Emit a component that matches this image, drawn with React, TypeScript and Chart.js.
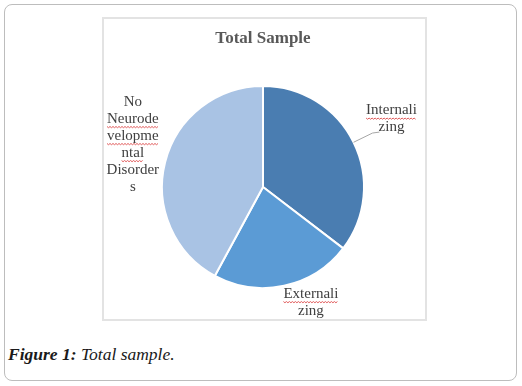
import React, { useEffect, useRef } from "react";
import { Chart, registerables } from "chart.js";

Chart.register(...registerables);

// ---- data ----
const categories = ["Internalizing", "Externalizing", "No Neurodevelopmental Disorders"];
const values = [35.4, 22.5, 42.1];
const sliceColors = ["#4A7DB1", "#5B9BD5", "#A9C3E4"];
const labelLines = [
  ["Internali", "zing"],
  ["Externali", "zing"],
  ["No", "Neurode", "velopme", "ntal", "Disorder", "s"],
];
const flaggedWords = ["Internali", "Externali", "Neurode", "velopme", "ntal"];
const chartTitle = "Total Sample";
const captionBold = "Figure 1:";
const captionText = " Total sample.";

// label placement (style)
const labelDist = [1.43, 1.18, 1.35];
const labelShift = [
  [-1, -4],
  [23, -1],
  [2, -9],
];
const leader = [true, false, false];

export default function App() {
  const ref = useRef<HTMLCanvasElement>(null);

  useEffect(() => {
    if (!ref.current) return;
    const labelPlugin = {
      id: "sliceLabels",
      afterDatasetsDraw(chart: any) {
        const ctx = chart.ctx as CanvasRenderingContext2D;
        const meta = chart.getDatasetMeta(0);
        ctx.save();
        ctx.font = "15px 'Liberation Serif'";
        ctx.textAlign = "center";
        ctx.textBaseline = "middle";
        const lh = 17;
        meta.data.forEach((arc: any, i: number) => {
          const { x, y, startAngle, endAngle, outerRadius } = arc.getProps(
            ["x", "y", "startAngle", "endAngle", "outerRadius"],
            true
          );
          const mid = (startAngle + endAngle) / 2;
          const c = Math.cos(mid);
          const s = Math.sin(mid);
          const ax = x + c * outerRadius * labelDist[i] + labelShift[i][0];
          const ay = y + s * outerRadius * labelDist[i] + labelShift[i][1];
          const lines = labelLines[i];
          const top = ay - ((lines.length - 1) * lh) / 2;
          if (leader[i]) {
            ctx.strokeStyle = "#a6a6a6";
            ctx.lineWidth = 1;
            ctx.beginPath();
            ctx.moveTo(x + c * outerRadius, y + s * outerRadius);
            ctx.lineTo(ax - 19, ay + 14);
            ctx.lineTo(ax - 12, ay + 13);
            ctx.stroke();
          }
          lines.forEach((ln, j) => {
            const ly = top + j * lh;
            ctx.fillStyle = "#404040";
            ctx.fillText(ln, ax, ly);
            if (flaggedWords.includes(ln)) {
              const w = ctx.measureText(ln).width;
              const x0 = ax - w / 2;
              const uy = ly + 7.5;
              ctx.strokeStyle = "#e05a5a";
              ctx.lineWidth = 1;
              ctx.beginPath();
              for (let k = 0; k <= w; k += 1.5) {
                const yy = uy + (Math.round(k / 1.5) % 2 === 0 ? 0 : 1.2);
                if (k === 0) ctx.moveTo(x0 + k, yy);
                else ctx.lineTo(x0 + k, yy);
              }
              ctx.stroke();
            }
          });
        });
        ctx.restore();
      },
    };

    const chart = new Chart(ref.current, {
      type: "pie",
      data: {
        labels: categories,
        datasets: [
          {
            data: values,
            backgroundColor: sliceColors,
            borderColor: "#ffffff",
            borderWidth: 2,
            hoverOffset: 0,
          },
        ],
      },
      options: {
        animation: false,
        responsive: false,
        maintainAspectRatio: false,
        layout: { padding: { left: 57, right: 60, top: 0, bottom: 30 } },
        plugins: {
          legend: { display: false },
          tooltip: { enabled: false },
          title: {
            display: true,
            text: chartTitle,
            color: "#595959",
            font: { family: "'Liberation Serif'", size: 17, weight: "bold", lineHeight: 1.2 },
            padding: { top: 9.3, bottom: 36.3 },
          },
        },
      },
      plugins: [labelPlugin],
    });
    return () => chart.destroy();
  }, []);

  return (
    <div>
      <div
        style={{
          position: "absolute",
          left: 4,
          top: 4,
          width: 513,
          height: 377,
          boxSizing: "border-box",
          border: "1.5px solid #bdbdbd",
          borderRadius: 8,
          background: "#fff",
        }}
      />
      <div
        style={{
          position: "absolute",
          left: 102,
          top: 17,
          width: 325,
          height: 304,
          boxSizing: "border-box",
          border: "2px solid #e3e3e3",
          background: "#fff",
        }}
      >
        <canvas ref={ref} width={321} height={300} style={{ display: "block", width: 321, height: 300 }} />
      </div>
      <div
        style={{
          position: "absolute",
          left: 8,
          top: 344,
          fontFamily: "'Liberation Serif', serif",
          fontStyle: "italic",
          fontSize: 17.5,
          lineHeight: "20px",
          color: "#1a1a1a",
          whiteSpace: "nowrap",
        }}
      >
        <b>{captionBold}</b>
        {captionText}
      </div>
    </div>
  );
}
